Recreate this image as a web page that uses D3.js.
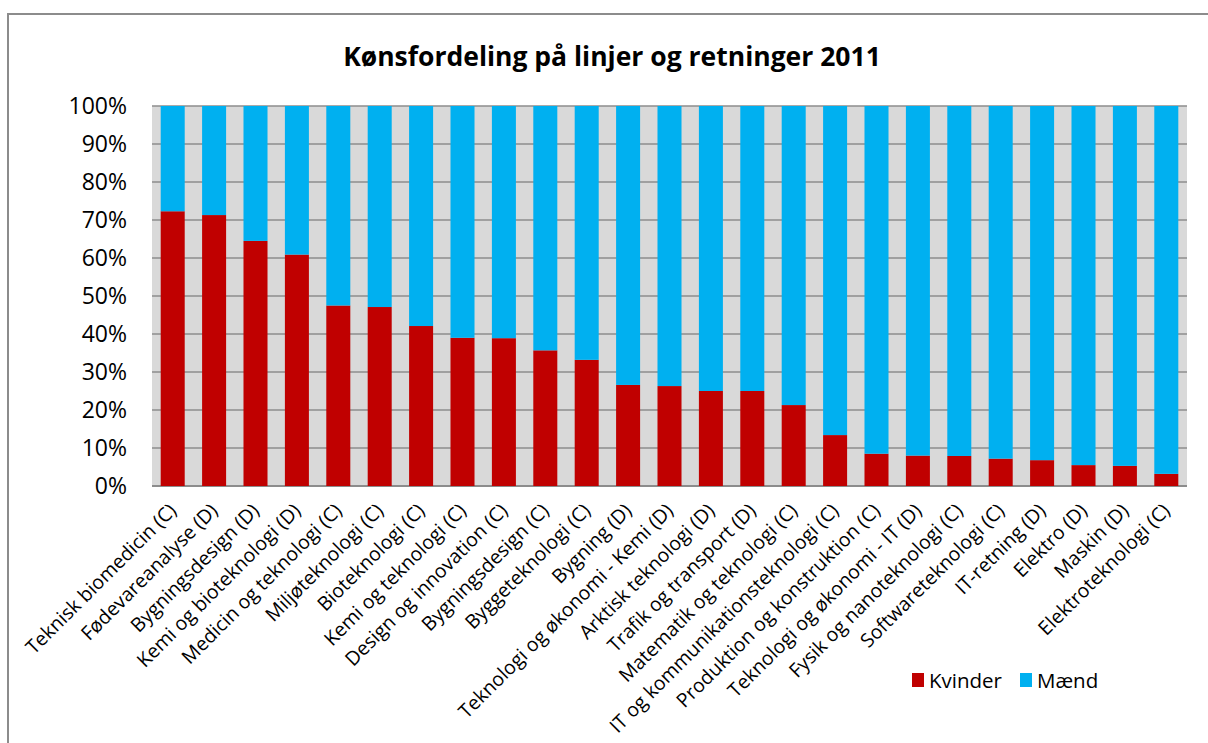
<!DOCTYPE html>
<html>
<head>
<meta charset="utf-8">
<script src="https://cdn.jsdelivr.net/npm/d3@7"></script>
<style>
  body { margin: 0; background: #fff; }
  text { font-family: "Open Sans", "Noto Sans", sans-serif; fill: #000; }
</style>
</head>
<body>
<svg width="1208" height="743"></svg>
<script>
// categories (study lines) in the order shown
const linjer = [
  'Teknisk biomedicin (C)', 'Fødevareanalyse (D)', 'Bygningsdesign (D)',
  'Kemi og bioteknologi (D)', 'Medicin og teknologi (C)', 'Miljøteknologi (C)',
  'Bioteknologi (C)', 'Kemi og teknologi (C)', 'Design og innovation (C)',
  'Bygningsdesign (C)', 'Byggeteknologi (C)', 'Bygning (D)',
  'Teknologi og økonomi - Kemi (D)', 'Arktisk teknologi (D)', 'Trafik og transport (D)',
  'Matematik og teknologi (C)', 'IT og kommunikationsteknologi (C)',
  'Produktion og konstruktion (C)', 'Teknologi og økonomi - IT (D)',
  'Fysik og nanoteknologi (C)', 'Softwareteknologi (C)', 'IT-retning (D)',
  'Elektro (D)', 'Maskin (D)', 'Elektroteknologi (C)'
];

// share of women, in percent
const kvinder = [72.3, 71.3, 64.5, 60.9, 47.5, 47.1, 42.1, 39.0, 38.9, 35.7, 33.2, 26.6,
                 26.3, 25.0, 25.0, 21.3, 13.4, 8.5, 8.0, 7.9, 7.2, 6.8, 5.5, 5.3, 3.2];
// share of men, in percent
const maend = kvinder.map(v => 100 - v);

const serier = ['Kvinder', 'Mænd'];
const farver = ['#C00000', '#00B0F0'];
const yTicks = [0, 10, 20, 30, 40, 50, 60, 70, 80, 90, 100];

const svg = d3.select('svg');

// outer chart frame
svg.append('rect')
  .attr('x', 8).attr('y', 14)
  .attr('width', 1210).attr('height', 760)
  .attr('fill', 'none')
  .attr('stroke', '#8c8c8c')
  .attr('stroke-width', 2);

// title
svg.append('text')
  .attr('x', 612).attr('y', 66)
  .attr('text-anchor', 'middle')
  .style('font-size', '26.5px')
  .style('font-weight', 'bold')
  .text('Kønsfordeling på linjer og retninger 2011');

const plotL = 152, plotR = 1187, plotT = 106, plotB = 486;

const x = d3.scaleBand().domain(linjer).range([plotL, plotR]).paddingInner(0.42).paddingOuter(0.21);
const y = d3.scaleLinear().domain([0, 100]).range([plotB, plotT]);
const color = d3.scaleOrdinal().domain(serier).range(farver);

// plot background
svg.append('rect')
  .attr('x', plotL).attr('y', plotT)
  .attr('width', plotR - plotL).attr('height', plotB - plotT)
  .attr('fill', '#D9D9D9');

// gridlines
svg.append('g')
  .selectAll('line')
  .data(yTicks)
  .join('line')
  .attr('x1', plotL).attr('x2', plotR)
  .attr('y1', d => y(d)).attr('y2', d => y(d))
  .attr('stroke', '#8c8c8c')
  .attr('stroke-width', d => d === 0 ? 2 : 1.3);

// stacked bars
const rows = linjer.map((l, i) => ({ linje: l, Kvinder: kvinder[i], 'Mænd': maend[i] }));
const stack = d3.stack().keys(serier)(rows);

svg.append('g')
  .selectAll('g')
  .data(stack)
  .join('g')
  .attr('fill', d => color(d.key))
  .selectAll('rect')
  .data(d => d)
  .join('rect')
  .attr('x', d => x(d.data.linje))
  .attr('width', x.bandwidth())
  .attr('y', d => y(d[1]))
  .attr('height', d => y(d[0]) - y(d[1]));

// y axis
const yAxis = svg.append('g')
  .attr('transform', `translate(${plotL},0)`)
  .call(d3.axisLeft(y).tickValues(yTicks).tickFormat(d => d + '%').tickSize(0).tickPadding(25));
yAxis.select('.domain').remove();
yAxis.selectAll('text')
  .style('font-size', '23px')
  .style('font-family', '"Open Sans", sans-serif')
  .attr('fill', '#000');

// x axis labels
const xAxis = svg.append('g')
  .attr('transform', `translate(0,${plotB})`)
  .call(d3.axisBottom(x).tickSize(0));
xAxis.select('.domain').remove();
xAxis.selectAll('text')
  .style('font-size', '19.5px')
  .style('font-family', '"Open Sans", sans-serif')
  .attr('fill', '#000')
  .attr('text-anchor', 'end')
  .attr('dy', '0.35em')
  .attr('y', 0)
  .attr('transform', 'translate(0,21) rotate(-45)');

// legend
const legend = svg.append('g')
  .selectAll('g')
  .data(serier)
  .join('g')
  .attr('transform', (d, i) => `translate(${[912, 1020][i]},673)`);
legend.append('rect')
  .attr('width', 12).attr('height', 14)
  .attr('fill', d => color(d));
legend.append('text')
  .attr('x', 17).attr('y', 14.5)
  .style('font-size', '20.5px')
  .text(d => d);
</script>
</body>
</html>
